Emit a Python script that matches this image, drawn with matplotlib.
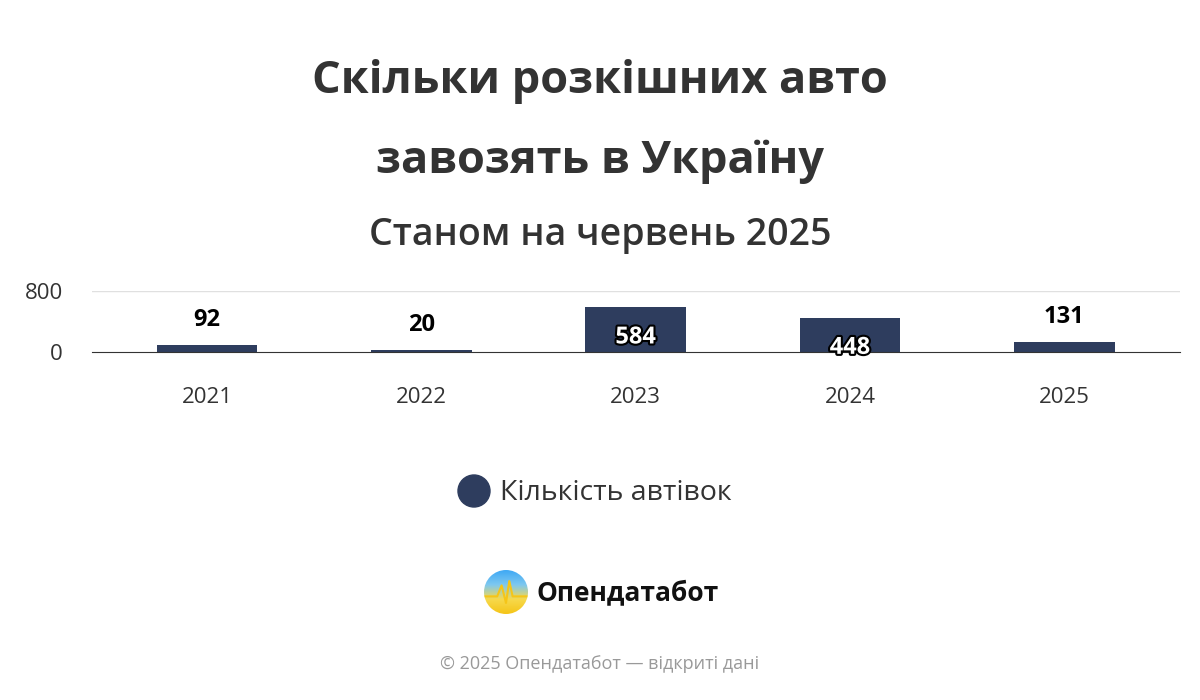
import matplotlib
matplotlib.use("Agg")
import matplotlib.pyplot as plt
import matplotlib.patheffects as pe
import numpy as np

years = ["2021", "2022", "2023", "2024", "2025"]
values = [92, 20, 584, 448, 131]
series_name = "Кількість автівок"
yticks = [0, 800]

plt.rcParams['font.family'] = ['Open Sans', 'DejaVu Sans']
color = "#2e3d5e"
fig = plt.figure(figsize=(12, 7), dpi=100)
fig.text(0.5, 1-82/700, "Скільки розкішних авто", ha='center', va='center', fontsize=32.5, fontweight='bold', color='#333333')
fig.text(0.5, 1-162/700, "завозять в Україну", ha='center', va='center', fontsize=32.5, fontweight='bold', color='#333333')
fig.text(0.5, 1-235/700, "Станом на червень 2025", ha='center', va='center', fontsize=27, fontweight='semibold', color='#333333')

ax = fig.add_axes([92/1200, 1-352/700, (1180-92)/1200, 61/700])
x = np.arange(len(years))
bars = ax.bar(x, values, width=0.47, color=color, zorder=3)
ax.set_xlim(-0.537, 4.54)
ax.set_ylim(0, 800)
ax.set_yticks(yticks)
ax.set_yticklabels([str(v) for v in yticks], fontsize=16, color='#333333')
ax.set_xticks(x)
ax.set_xticklabels(years, fontsize=16, color='#333333')
ax.tick_params(axis='x', length=0, pad=25)
ax.tick_params(axis='y', length=0, pad=21)
for s in ['top', 'right', 'left']:
    ax.spines[s].set_visible(False)
ax.spines['bottom'].set_color('#333333')
ax.spines['bottom'].set_zorder(4)
ax.axhline(800, color='#e0e0e0', lw=1, zorder=1)
for xi, v in zip(x, values):
    if v > 300:
        ax.annotate(str(v), (xi, v), xytext=(0, -30), textcoords='offset pixels',
                    ha='center', va='center', fontsize=17, fontweight='bold', color='white', zorder=5,
                    path_effects=[pe.withStroke(linewidth=3, foreground='black')])
    else:
        ax.annotate(str(v), (xi, v), xytext=(0, 25), textcoords='offset pixels',
                    ha='center', va='center', fontsize=17, fontweight='bold', color='black', zorder=5)

# legend
fig.patches.append(matplotlib.patches.Ellipse((474/1200, 1-491/700), 32/1200, 32/700, transform=fig.transFigure, color=color))
fig.text(500/1200, 1-493/700, series_name, ha='left', va='center', fontsize=20.5, color='#333333')

# logo
lax = fig.add_axes([484/1200, 1-614/700, 44/1200, 44/700])
g = np.linspace(0, 1, 100)[:, None] * np.ones((1, 100))
cmap = matplotlib.colors.LinearSegmentedColormap.from_list('l', ['#3fa9f5', '#7ec8f0', '#f7d94c', '#f5c518'])
im = lax.imshow(g, cmap=cmap, extent=[-1, 1, -1, 1], origin='upper')
circ = matplotlib.patches.Circle((0, 0), 1, transform=lax.transData)
im.set_clip_path(circ)
lax.plot([-1, -0.4, -0.2, 0, 0.15, 0.3, 1], [-0.2, -0.2, 0.3, -0.5, 0.5, -0.2, -0.2], color='#f5c518', lw=1.5, clip_path=circ)
lax.set_xlim(-1, 1); lax.set_ylim(-1, 1); lax.axis('off')
fig.text(536/1200, 1-593/700, "Опендатабот", ha='left', va='center', fontsize=19, fontweight='bold', color='#111111')
fig.text(0.5, 1-664/700, "© 2025 Опендатабот — відкриті дані", ha='center', va='center', fontsize=13, color='#999999')
fig.savefig("out.png", dpi=100)
